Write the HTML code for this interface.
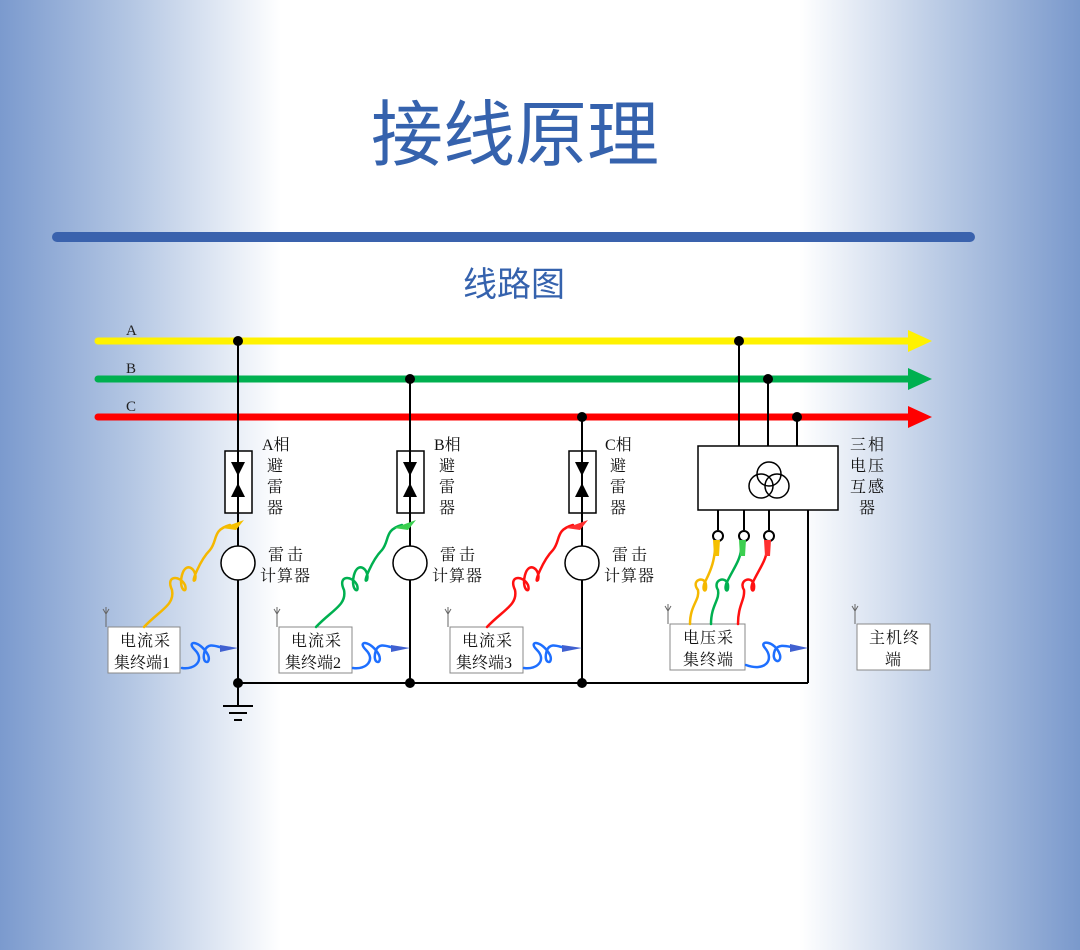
<!DOCTYPE html>
<html><head><meta charset="utf-8"><style>
html,body{margin:0;padding:0}
body{width:1080px;height:950px;overflow:hidden;background:linear-gradient(to right,#7b9ace 0%,#b3c6e3 12%,#ffffff 26%,#ffffff 74%,#b5c7e3 88%,#7a99cc 100%);font-family:"Liberation Serif","Noto Serif CJK SC",serif}
</style></head><body>
<svg width="1080" height="950" xmlns="http://www.w3.org/2000/svg" style="position:absolute;left:0;top:0">
<text x="515" y="160" text-anchor="middle" font-family="'Liberation Sans','Noto Sans CJK SC',sans-serif" font-size="72" fill="#3562ad">接线原理</text>
<line x1="57" y1="237" x2="970" y2="237" stroke="#3a62ad" stroke-width="10" stroke-linecap="round"/>
<text x="514" y="296" text-anchor="middle" font-family="'Liberation Sans','Noto Sans CJK SC',sans-serif" font-size="34" fill="#3562ad">线路图</text>
<g stroke-width="7" stroke-linecap="round">
<line x1="98" y1="341" x2="912" y2="341" stroke="#fff200"/>
<line x1="98" y1="379" x2="912" y2="379" stroke="#00b050"/>
<line x1="98" y1="417" x2="912" y2="417" stroke="#ff0000"/>
</g>
<polygon points="908,330 932,341 908,352" fill="#fff200"/>
<polygon points="908,368 932,379 908,390" fill="#00b050"/>
<polygon points="908,406 932,417 908,428" fill="#ff0000"/>
<g font-size="15" fill="#222"><text x="126" y="335">A</text><text x="126" y="373">B</text><text x="126" y="411">C</text></g>
<g stroke="#000" stroke-width="2" fill="none">
<line x1="238" y1="341" x2="238" y2="705"/>
<line x1="410" y1="379" x2="410" y2="683"/>
<line x1="582" y1="417" x2="582" y2="683"/>
<line x1="238" y1="683" x2="808" y2="683"/>
<line x1="808" y1="683" x2="808" y2="510"/>
<line x1="739" y1="341" x2="739" y2="446"/>
<line x1="768" y1="379" x2="768" y2="446"/>
<line x1="797" y1="417" x2="797" y2="446"/>
<line x1="718" y1="510" x2="718" y2="530"/>
<line x1="744" y1="510" x2="744" y2="530"/>
<line x1="769" y1="510" x2="769" y2="530"/>
<line x1="223" y1="706" x2="253" y2="706"/>
<line x1="229" y1="713" x2="247" y2="713"/>
<line x1="234" y1="720" x2="242" y2="720"/>
</g>
<g fill="#000">
<circle cx="238" cy="341" r="5"/><circle cx="410" cy="379" r="5"/><circle cx="582" cy="417" r="5"/>
<circle cx="739" cy="341" r="5"/><circle cx="768" cy="379" r="5"/><circle cx="797" cy="417" r="5"/>
<circle cx="238" cy="683" r="5"/><circle cx="410" cy="683" r="5"/><circle cx="582" cy="683" r="5"/>
</g>
<g id="arr">
<rect x="225" y="451" width="27" height="62" fill="#fff" stroke="#000" stroke-width="1.5"/>
<line x1="238" y1="451" x2="238" y2="513" stroke="#000" stroke-width="2"/>
<polygon points="231,462 245,462 238,476" fill="#000"/>
<polygon points="231,497 245,497 238,483" fill="#000"/>
<circle cx="238" cy="563" r="17" fill="#fff" stroke="#000" stroke-width="1.5"/>
</g>
<use href="#arr" x="172"/><use href="#arr" x="344"/>
<rect x="698" y="446" width="140" height="64" fill="#fff" stroke="#000" stroke-width="1.5"/>
<g fill="none" stroke="#000" stroke-width="1.5"><circle cx="769" cy="474" r="12"/><circle cx="761" cy="486" r="12"/><circle cx="777" cy="486" r="12"/></g>
<g fill="#fff" stroke="#000" stroke-width="2"><circle cx="718" cy="536" r="5"/><circle cx="744" cy="536" r="5"/><circle cx="769" cy="536" r="5"/></g>
<g font-size="16" fill="#111">
<text x="262" y="450">A相</text><text x="267" y="471">避</text><text x="267" y="492">雷</text><text x="267" y="513">器</text>
<text x="434" y="450">B相</text><text x="439" y="471">避</text><text x="439" y="492">雷</text><text x="439" y="513">器</text>
<text x="605" y="450">C相</text><text x="610" y="471">避</text><text x="610" y="492">雷</text><text x="610" y="513">器</text>
<text x="268" y="560" letter-spacing="3">雷击</text><text x="260" y="581" letter-spacing="1">计算器</text>
<text x="440" y="560" letter-spacing="3">雷击</text><text x="432" y="581" letter-spacing="1">计算器</text>
<text x="612" y="560" letter-spacing="3">雷击</text><text x="604" y="581" letter-spacing="1">计算器</text>
<text x="850" y="450" letter-spacing="2">三相</text><text x="850" y="471" letter-spacing="2">电压</text><text x="850" y="492" letter-spacing="2">互感</text><text x="859" y="513">器</text>
</g>
<g fill="#fff" stroke="#888" stroke-width="1">
<rect x="108" y="627" width="72" height="46"/><rect x="279" y="627" width="73" height="46"/><rect x="450" y="627" width="73" height="46"/>
<rect x="670" y="624" width="75" height="46"/><rect x="857" y="624" width="73" height="46"/>
</g>
<g stroke="#666" stroke-width="1" fill="none">
<path d="M106 627V607M103 609L106 614L109 609"/><path d="M277 627V607M274 609L277 614L280 609"/><path d="M448 627V607M445 609L448 614L451 609"/>
<path d="M668 624V604M665 606L668 611L671 606"/><path d="M855 624V604M852 606L855 611L858 606"/>
</g>
<g font-size="16" fill="#111">
<text x="120" y="646" letter-spacing="1">电流采</text><text x="114" y="668">集终端1</text>
<text x="291" y="646" letter-spacing="1">电流采</text><text x="285" y="668">集终端2</text>
<text x="462" y="646" letter-spacing="1">电流采</text><text x="456" y="668">集终端3</text>
<text x="683" y="643" letter-spacing="1">电压采</text><text x="683" y="665" letter-spacing="1">集终端</text>
<text x="869" y="643" letter-spacing="1">主机终</text><text x="885" y="665">端</text>
</g>
<g fill="none" stroke-width="2.5" stroke-linecap="round">
<path d="M144 627 C160 610,175 605,172 590 C165 575,180 575,185 585 C188 595,178 590,182 575 C186 560,198 570,195 580 C190 585,200 560,210 550 C218 540,212 530,230 525" stroke="#f5b800"/>
<path d="M316 627 C332 610,347 605,344 590 C337 575,352 575,357 585 C360 595,350 590,354 575 C358 560,370 570,367 580 C362 585,372 560,382 550 C390 540,384 530,402 525" stroke="#00b050"/>
<path d="M487 627 C503 610,518 605,515 590 C508 575,523 575,528 585 C531 595,521 590,525 575 C529 560,541 570,538 580 C533 585,543 560,553 550 C561 540,555 530,573 525" stroke="#ff1010"/>
<path d="M690 624 C690 605,700 600,698 590 C690 580,705 575,706 585 C707 595,700 590,706 580 C712 568,714 560,715 550" stroke="#f5b800"/>
<path d="M711 624 C711 605,720 600,718 590 C712 580,726 575,728 585 C729 595,722 590,728 580 C734 568,740 560,741 550" stroke="#00b050"/>
<path d="M738 624 C738 605,745 600,744 590 C738 580,752 575,754 585 C755 595,748 590,754 580 C760 568,766 560,767 550" stroke="#ff1010"/>
<path d="M182 668 C195 670,205 660,195 650 C185 640,200 640,208 655 C212 665,200 665,205 650 C210 640,220 650,230 648" stroke="#1e6fff"/>
<path d="M353 668 C366 670,376 660,366 650 C356 640,371 640,379 655 C383 665,371 665,376 650 C381 640,391 650,401 648" stroke="#1e6fff"/>
<path d="M524 668 C537 670,547 660,537 650 C527 640,542 640,550 655 C554 665,542 665,547 650 C552 640,562 650,572 648" stroke="#1e6fff"/>
<path d="M746 665 C765 672,775 660,765 648 C758 640,775 640,780 655 C782 665,770 662,775 650 C780 642,790 648,800 648" stroke="#1e6fff"/>
</g>
<g>
<polygon points="222,528 244,520 236,530" fill="#f5c000"/>
<polygon points="394,528 416,520 408,530" fill="#3ccf50"/>
<polygon points="566,528 588,520 580,530" fill="#ff3030"/>
<polygon points="713,540 720,540 719,556 714,556" fill="#f5c000"/>
<polygon points="739,540 746,540 745,556 740,556" fill="#3ccf50"/>
<polygon points="764,540 771,540 770,556 765,556" fill="#ff3030"/>
<polygon points="220,645 238,648 220,652" fill="#4060d0"/>
<polygon points="391,645 410,648 391,652" fill="#4060d0"/>
<polygon points="562,645 582,648 562,652" fill="#4060d0"/>
<polygon points="790,644 808,648 790,652" fill="#4060d0"/>
</g>
</svg>
</body></html>
